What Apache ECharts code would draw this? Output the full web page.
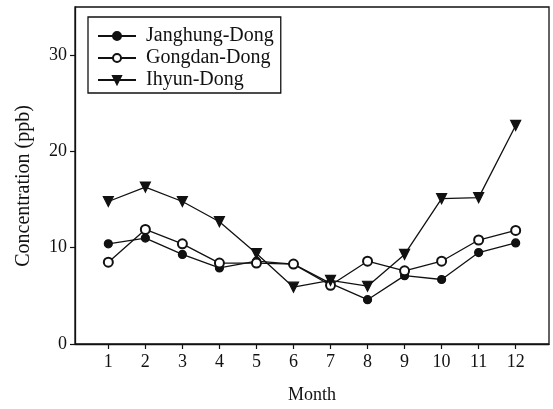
<!DOCTYPE html>
<html>
<head>
<meta charset="utf-8">
<script src="https://cdn.jsdelivr.net/npm/echarts@6/dist/echarts.min.js"></script>
<style>
  html, body { margin: 0; padding: 0; background: #fff; }
  #chart { width: 553px; height: 409px; }
</style>
</head>
<body>
<div id="chart"></div>
<script>
// Monthly concentrations (ppb) at three sites
const months = [1, 2, 3, 4, 5, 6, 7, 8, 9, 10, 11, 12];
const janghung = [10.4, 11.0, 9.3, 7.9, 8.6, 8.3, 6.3, 4.6, 7.1, 6.7, 9.5, 10.5];
const gongdan = [8.5, 11.9, 10.4, 8.4, 8.4, 8.3, 6.1, 8.6, 7.6, 8.6, 10.8, 11.8];
const ihyun = [14.8, 16.3, 14.8, 12.7, 9.4, 5.9, 6.6, 6.0, 9.3, 15.1, 15.2, 22.7];
const yTicks = [0, 10, 20, 30];

const font = 'Liberation Serif';
const ink = '#111';

function pairs(vals) {
  return months.map((m, i) => [m, vals[i]]);
}

function lineSeries(name, vals, symbol, size, rotate) {
  return {
    name: name,
    type: 'line',
    data: pairs(vals),
    symbol: symbol,
    symbolSize: size,
    symbolRotate: rotate || 0,
    showAllSymbol: true,
    lineStyle: { color: ink, width: 1.3 },
    itemStyle: { color: ink, borderColor: ink, borderWidth: 1.2 },
    emphasis: { disabled: true },
    z: 3
  };
}

const chart = echarts.init(document.getElementById('chart'));
chart.setOption({
  animation: false,
  backgroundColor: '#fff',
  grid: {
    left: 75, right: 4, top: 7, bottom: 59,
    show: true, borderColor: ink, borderWidth: 1.3, backgroundColor: 'transparent'
  },
  legend: {
    orient: 'vertical',
    left: 88, top: 17,
    padding: [9, 7, 3, 9],
    itemGap: 2,
    itemWidth: 38,
    itemHeight: 10,
    borderColor: ink,
    borderWidth: 1.3,
    textStyle: { fontFamily: font, fontSize: 20, color: ink, padding: [0, 0, 0, 5] },
    data: ['Janghung-Dong', 'Gongdan-Dong', 'Ihyun-Dong']
  },
  // rotated title of the value axis
  graphic: [{
    type: 'text',
    x: 24, y: 186,
    rotation: Math.PI / 2,
    style: {
      text: 'Concentration (ppb)',
      font: '20px "Liberation Serif"',
      fill: ink,
      align: 'center',
      verticalAlign: 'middle'
    }
  }],
  xAxis: {
    type: 'value',
    min: 0.1, max: 12.9,
    name: 'Month',
    nameLocation: 'middle',
    nameGap: 42,
    nameTextStyle: { fontFamily: font, fontSize: 18, color: ink },
    axisLine: { lineStyle: { color: ink, width: 1.3 } },
    axisTick: { show: true, customValues: months, length: 5, lineStyle: { color: ink, width: 1.2 } },
    axisLabel: { customValues: months, fontFamily: font, fontSize: 18, color: ink, margin: 9 },
    splitLine: { show: false }
  },
  yAxis: {
    type: 'value',
    min: 0, max: 35,
    axisLine: { lineStyle: { color: ink, width: 1.3 } },
    axisTick: { show: true, customValues: yTicks, length: 5, lineStyle: { color: ink, width: 1.2 } },
    axisLabel: { customValues: yTicks, fontFamily: font, fontSize: 18, color: ink, margin: 8 },
    splitLine: { show: false }
  },
  series: [
    lineSeries('Janghung-Dong', janghung, 'circle', 8),
    lineSeries('Gongdan-Dong', gongdan, 'emptyCircle', 9),
    lineSeries('Ihyun-Dong', ihyun, 'triangle', 10, 180)
  ]
});
</script>
</body>
</html>
